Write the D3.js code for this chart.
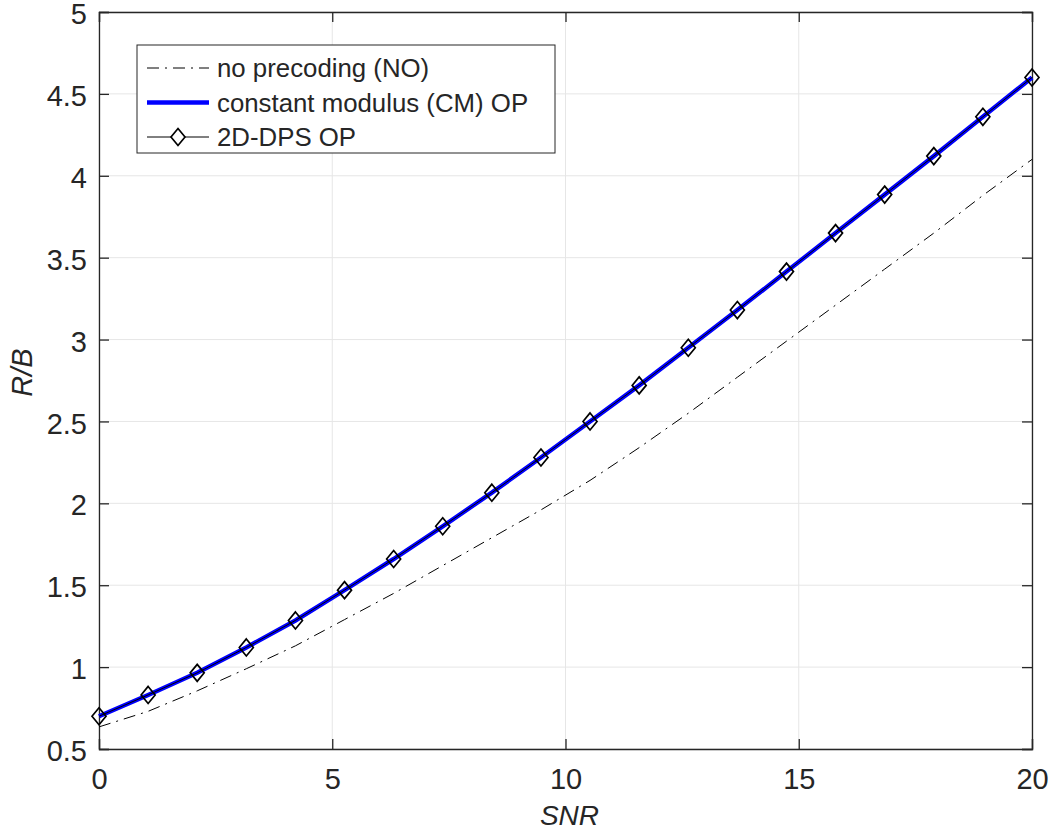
<!DOCTYPE html>
<html>
<head>
<meta charset="utf-8">
<script src="https://cdn.jsdelivr.net/npm/d3@7"></script>
<style>
  body { margin: 0; background: #fff; }
  text { font-family: "Liberation Sans", Arial, sans-serif; fill: #262626; }
</style>
</head>
<body>
<div id="chart"></div>
<script>
var svgWidth = 1054;
var svgHeight = 836;

var margin = { top: 12, right: 22, bottom: 87, left: 99 };
var width = svgWidth - margin.left - margin.right;
var height = svgHeight - margin.top - margin.bottom;

// SNR sample points (20 points from 0 to 20)
var snr = [0, 1.053, 2.105, 3.158, 4.211, 5.263, 6.316, 7.368, 8.421, 9.474,
           10.526, 11.579, 12.632, 13.684, 14.737, 15.789, 16.842, 17.895, 18.947, 20];
var noPrecoding = [0.635, 0.73, 0.855, 0.99, 1.13, 1.29, 1.45, 1.62, 1.79, 1.96,
                   2.14, 2.34, 2.55, 2.77, 2.99, 3.21, 3.43, 3.65, 3.88, 4.10];
var cmOP = [0.70, 0.83, 0.965, 1.12, 1.285, 1.47, 1.66, 1.86, 2.065, 2.28,
            2.50, 2.72, 2.95, 3.18, 3.415, 3.65, 3.885, 4.12, 4.36, 4.60];
var dpsOP = [0.70, 0.83, 0.965, 1.12, 1.285, 1.47, 1.66, 1.86, 2.065, 2.28,
             2.50, 2.72, 2.95, 3.18, 3.415, 3.65, 3.885, 4.12, 4.36, 4.60];
var xTicks = [0, 5, 10, 15, 20];
var yTicks = [0.5, 1, 1.5, 2, 2.5, 3, 3.5, 4, 4.5, 5];
var legendLabels = ["no precoding (NO)", "constant modulus (CM) OP", "2D-DPS OP"];

var svg = d3.select("#chart")
    .append("svg")
    .attr("width", svgWidth)
    .attr("height", svgHeight);

var chartGroup = svg.append("g")
    .attr("transform", `translate(${margin.left}, ${margin.top})`);

var xScale = d3.scaleLinear().domain([0, 20]).range([0, width]);
var yScale = d3.scaleLinear().domain([0.5, 5]).range([height, 0]);

// grid
chartGroup.append("g").selectAll("line")
    .data(xTicks)
    .enter().append("line")
    .attr("x1", d => xScale(d)).attr("x2", d => xScale(d))
    .attr("y1", 0).attr("y2", height)
    .attr("stroke", "#e6e6e6").attr("stroke-width", 1);
chartGroup.append("g").selectAll("line")
    .data(yTicks)
    .enter().append("line")
    .attr("x1", 0).attr("x2", width)
    .attr("y1", d => yScale(d)).attr("y2", d => yScale(d))
    .attr("stroke", "#e6e6e6").attr("stroke-width", 1);

// axes with inward ticks
var tickLen = 10;
var bottomAxis = d3.axisBottom(xScale).tickValues(xTicks).tickSize(-tickLen).tickPadding(19);
var leftAxis = d3.axisLeft(yScale).tickValues(yTicks).tickSize(-tickLen).tickPadding(12)
    .tickFormat(d3.format("~g"));
var topAxis = d3.axisTop(xScale).tickValues(xTicks).tickSize(-tickLen).tickFormat("");
var rightAxis = d3.axisRight(yScale).tickValues(yTicks).tickSize(-tickLen).tickFormat("");

function styleAxis(g) {
    g.select(".domain").attr("stroke", "#262626").attr("stroke-width", 1.3);
    g.selectAll(".tick line").attr("stroke", "#262626").attr("stroke-width", 1.3);
    g.selectAll(".tick text")
        .attr("fill", "#262626")
        .style("font-family", "'Liberation Sans', Arial, sans-serif")
        .style("font-size", "29px");
}

chartGroup.append("g").attr("transform", `translate(0, ${height})`).call(bottomAxis).call(styleAxis);
chartGroup.append("g").call(leftAxis).call(styleAxis)
    .selectAll(".tick text").attr("dy", "0.4em");
chartGroup.append("g").call(topAxis).call(styleAxis);
chartGroup.append("g").attr("transform", `translate(${width}, 0)`).call(rightAxis).call(styleAxis);

// series
var seriesLine = d3.line().x((d, i) => xScale(snr[i])).y(d => yScale(d));

chartGroup.append("path")
    .datum(noPrecoding)
    .attr("d", seriesLine)
    .attr("fill", "none")
    .attr("stroke", "#000")
    .attr("stroke-width", 1)
    .attr("stroke-dasharray", "12,6,2,6");

chartGroup.append("path")
    .datum(cmOP)
    .attr("d", seriesLine)
    .attr("fill", "none")
    .attr("stroke", "#0000ff")
    .attr("stroke-width", 4.5);

chartGroup.append("path")
    .datum(dpsOP)
    .attr("d", seriesLine)
    .attr("fill", "none")
    .attr("stroke", "#000")
    .attr("stroke-width", 1);

function diamond(w, h) {
    return `M0,${-h}L${w},0L0,${h}L${-w},0Z`;
}

chartGroup.append("g").selectAll("path")
    .data(dpsOP)
    .enter().append("path")
    .attr("transform", (d, i) => `translate(${xScale(snr[i])}, ${yScale(d)})`)
    .attr("d", diamond(7, 8.5))
    .attr("fill", "none")
    .attr("stroke", "#000")
    .attr("stroke-width", 1.7);

// axis labels
chartGroup.append("text")
    .attr("transform", `translate(${width / 2 + 4}, ${height + 76})`)
    .attr("text-anchor", "middle")
    .style("font-size", "28px")
    .style("font-style", "italic")
    .text("SNR");

chartGroup.append("text")
    .attr("transform", `translate(${-margin.left + 32}, ${height / 2 - 8}) rotate(-90)`)
    .attr("text-anchor", "middle")
    .style("font-size", "29px")
    .style("font-style", "italic")
    .text("R/B");

// legend
var legend = chartGroup.append("g").attr("transform", "translate(38, 33)");
legend.append("rect")
    .attr("width", 418).attr("height", 108)
    .attr("fill", "#fff").attr("stroke", "#262626").attr("stroke-width", 1);

var rowY = d3.scalePoint().domain(legendLabels).range([23, 92]);
var styles = [
    { stroke: "#000", width: 1, dash: "12,6,2,6", marker: false },
    { stroke: "#0000ff", width: 4.5, dash: null, marker: false },
    { stroke: "#000", width: 1, dash: null, marker: true }
];

legendLabels.forEach(function(lbl, i) {
    var y = rowY(lbl);
    legend.append("line")
        .attr("x1", 10).attr("x2", 72)
        .attr("y1", y).attr("y2", y)
        .attr("stroke", styles[i].stroke)
        .attr("stroke-width", styles[i].width)
        .attr("stroke-dasharray", styles[i].dash);
    if (styles[i].marker) {
        legend.append("path")
            .attr("transform", `translate(41, ${y})`)
            .attr("d", diamond(7, 8.5))
            .attr("fill", "#fff")
            .attr("stroke", "#000")
            .attr("stroke-width", 1.7);
    }
    legend.append("text")
        .attr("x", 80).attr("y", y)
        .attr("dy", "0.35em")
        .style("font-size", "25.8px")
        .text(lbl);
});
</script>
</body>
</html>
